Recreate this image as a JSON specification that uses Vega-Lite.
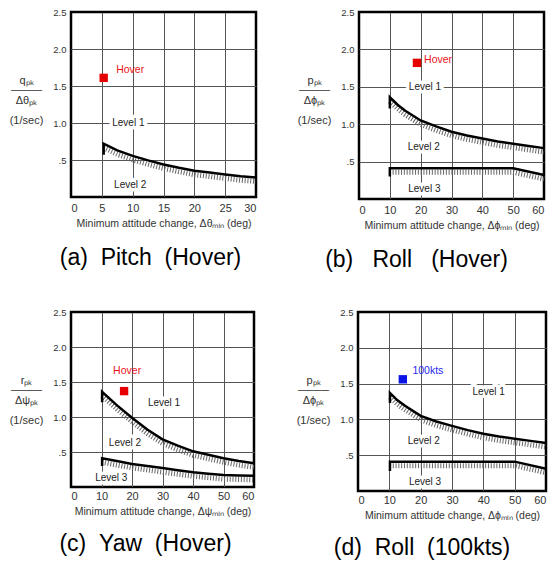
{
  "$schema": "https://vega.github.io/schema/vega-lite/v6.json",
  "background": "white",
  "padding": {"left": 7, "top": 5, "right": 4, "bottom": 4},
  "config": {
    "view": {"stroke": "black", "strokeWidth": 2.5},
    "axis": {"domain": false, "ticks": false, "tickSize": 0, "grid": true, "gridWidth": 1, "labelFont": "Liberation Sans", "labelColor": "#333", "titleFont": "Liberation Sans", "titleFontWeight": "normal", "titleColor": "#333"},
    "axisX": {"labelFontSize": 11, "labelPadding": 5, "titleFontSize": 10.5, "titlePadding": 5},
    "axisY": {"labelFontSize": 9.5, "labelPadding": 5, "titleFontSize": 11, "titleAngle": 0, "titleAlign": "center", "titleBaseline": "top", "titleX": -45, "titleY": 62, "titleLineHeight": 10},
    "title": {"font": "Liberation Sans", "fontSize": 23, "fontWeight": "normal", "color": "black", "orient": "bottom", "anchor": "middle"},
    "text": {"font": "Liberation Sans", "fontSize": 10, "color": "#222"}
  },
  "datasets": {
    "a_lines": [
      {"s": "U", "o": 0, "h": 0, "x": 5.3, "y": 0.57},
      {"s": "U", "o": 1, "h": 1, "x": 5.3, "y": 0.72},
      {"s": "U", "o": 2, "h": 1, "x": 7.5, "y": 0.63},
      {"s": "U", "o": 3, "h": 1, "x": 10, "y": 0.555},
      {"s": "U", "o": 4, "h": 1, "x": 12.5, "y": 0.495},
      {"s": "U", "o": 5, "h": 1, "x": 15, "y": 0.44},
      {"s": "U", "o": 6, "h": 1, "x": 17.5, "y": 0.395},
      {"s": "U", "o": 7, "h": 1, "x": 20, "y": 0.355},
      {"s": "U", "o": 8, "h": 1, "x": 22.5, "y": 0.33},
      {"s": "U", "o": 9, "h": 1, "x": 25, "y": 0.305},
      {"s": "U", "o": 10, "h": 1, "x": 27.5, "y": 0.28},
      {"s": "U", "o": 11, "h": 1, "x": 30, "y": 0.265}
    ],
    "a_levels": [{"x": 9.3, "y": 1.0, "t": "Level 1"}, {"x": 9.6, "y": 0.16, "t": "Level 2"}],
    "a_marker": [{"x": 5.3, "y": 1.61}],
    "a_label": [{"x": 9.6, "y": 1.72, "t": "Hover"}],
    "b_lines": [
      {"s": "U", "o": 0, "h": 0, "x": 10, "y": 1.21},
      {"s": "U", "o": 1, "h": 1, "x": 10, "y": 1.36},
      {"s": "U", "o": 2, "h": 1, "x": 12.5, "y": 1.26},
      {"s": "U", "o": 3, "h": 1, "x": 15, "y": 1.18},
      {"s": "U", "o": 4, "h": 1, "x": 20, "y": 1.05},
      {"s": "U", "o": 5, "h": 1, "x": 25, "y": 0.97},
      {"s": "U", "o": 6, "h": 1, "x": 30, "y": 0.9},
      {"s": "U", "o": 7, "h": 1, "x": 35, "y": 0.85},
      {"s": "U", "o": 8, "h": 1, "x": 40, "y": 0.81},
      {"s": "U", "o": 9, "h": 1, "x": 45, "y": 0.77},
      {"s": "U", "o": 10, "h": 1, "x": 50, "y": 0.74},
      {"s": "U", "o": 11, "h": 1, "x": 55, "y": 0.71},
      {"s": "U", "o": 12, "h": 1, "x": 60, "y": 0.68},
      {"s": "L", "o": 0, "h": 0, "x": 10, "y": 0.3},
      {"s": "L", "o": 1, "h": 1, "x": 10, "y": 0.41},
      {"s": "L", "o": 2, "h": 1, "x": 50, "y": 0.41},
      {"s": "L", "o": 3, "h": 1, "x": 60, "y": 0.32}
    ],
    "b_levels": [{"x": 21.4, "y": 1.5, "t": "Level 1"}, {"x": 21, "y": 0.69, "t": "Level 2"}, {"x": 21.2, "y": 0.14, "t": "Level 3"}],
    "b_marker": [{"x": 18.8, "y": 1.82}],
    "b_label": [{"x": 21.1, "y": 1.86, "t": "Hover"}],
    "c_lines": [
      {"s": "U", "o": 0, "h": 0, "x": 10.2, "y": 1.21},
      {"s": "U", "o": 1, "h": 1, "x": 10.2, "y": 1.36},
      {"s": "U", "o": 2, "h": 1, "x": 15, "y": 1.17},
      {"s": "U", "o": 3, "h": 1, "x": 20, "y": 0.99},
      {"s": "U", "o": 4, "h": 1, "x": 25, "y": 0.82},
      {"s": "U", "o": 5, "h": 1, "x": 30, "y": 0.68},
      {"s": "U", "o": 6, "h": 1, "x": 35, "y": 0.59},
      {"s": "U", "o": 7, "h": 1, "x": 40, "y": 0.51},
      {"s": "U", "o": 8, "h": 1, "x": 45, "y": 0.46},
      {"s": "U", "o": 9, "h": 1, "x": 50, "y": 0.41},
      {"s": "U", "o": 10, "h": 1, "x": 55, "y": 0.37},
      {"s": "U", "o": 11, "h": 1, "x": 60, "y": 0.34},
      {"s": "L", "o": 0, "h": 0, "x": 10.2, "y": 0.3},
      {"s": "L", "o": 1, "h": 1, "x": 10.2, "y": 0.41},
      {"s": "L", "o": 2, "h": 1, "x": 15, "y": 0.37},
      {"s": "L", "o": 3, "h": 1, "x": 20, "y": 0.33},
      {"s": "L", "o": 4, "h": 1, "x": 25, "y": 0.3},
      {"s": "L", "o": 5, "h": 1, "x": 30, "y": 0.27},
      {"s": "L", "o": 6, "h": 1, "x": 35, "y": 0.24},
      {"s": "L", "o": 7, "h": 1, "x": 40, "y": 0.21},
      {"s": "L", "o": 8, "h": 1, "x": 45, "y": 0.19},
      {"s": "L", "o": 9, "h": 1, "x": 50, "y": 0.17},
      {"s": "L", "o": 10, "h": 1, "x": 55, "y": 0.165},
      {"s": "L", "o": 11, "h": 1, "x": 60, "y": 0.16}
    ],
    "c_levels": [{"x": 30.5, "y": 1.2, "t": "Level 1"}, {"x": 17.7, "y": 0.63, "t": "Level 2"}, {"x": 13.2, "y": 0.13, "t": "Level 3"}],
    "c_marker": [{"x": 17.4, "y": 1.37}],
    "c_label": [{"x": 18.4, "y": 1.66, "t": "Hover"}],
    "d_lines": [
      {"s": "U", "o": 0, "h": 0, "x": 10.2, "y": 1.23},
      {"s": "U", "o": 1, "h": 1, "x": 10.2, "y": 1.37},
      {"s": "U", "o": 2, "h": 1, "x": 12.5, "y": 1.27},
      {"s": "U", "o": 3, "h": 1, "x": 15, "y": 1.19},
      {"s": "U", "o": 4, "h": 1, "x": 20, "y": 1.05},
      {"s": "U", "o": 5, "h": 1, "x": 25, "y": 0.97},
      {"s": "U", "o": 6, "h": 1, "x": 30, "y": 0.91},
      {"s": "U", "o": 7, "h": 1, "x": 35, "y": 0.85},
      {"s": "U", "o": 8, "h": 1, "x": 40, "y": 0.8},
      {"s": "U", "o": 9, "h": 1, "x": 45, "y": 0.76},
      {"s": "U", "o": 10, "h": 1, "x": 50, "y": 0.73},
      {"s": "U", "o": 11, "h": 1, "x": 55, "y": 0.7},
      {"s": "U", "o": 12, "h": 1, "x": 60, "y": 0.67},
      {"s": "L", "o": 0, "h": 0, "x": 10.2, "y": 0.28},
      {"s": "L", "o": 1, "h": 1, "x": 10.2, "y": 0.41},
      {"s": "L", "o": 2, "h": 1, "x": 50, "y": 0.41},
      {"s": "L", "o": 3, "h": 1, "x": 60, "y": 0.31}
    ],
    "d_levels": [{"x": 41.7, "y": 1.38, "t": "Level 1"}, {"x": 21, "y": 0.7, "t": "Level 2"}, {"x": 21.4, "y": 0.12, "t": "Level 3"}],
    "d_marker": [{"x": 14.3, "y": 1.56}],
    "d_label": [{"x": 22.3, "y": 1.68, "t": "100kts"}]
  },
  "spacing": 32,
  "vconcat": [
    {
      "bounds": "flush",
      "spacing": 103,
      "hconcat": [
        {
          "width": 185, "height": 185,
          "title": {"text": "(a)\u00a0\u00a0Pitch\u00a0\u00a0(Hover)", "dx": -13, "offset": 18},
          "encoding": {
            "x": {"field": "x", "type": "quantitative", "scale": {"domain": [0, 30], "nice": false, "zero": false},
                  "axis": {"values": [0, 5, 10, 15, 20, 25, 30], "title": "Minimum attitude change, Δθₘᵢₙ (deg)",
                           "gridColor": {"condition": {"test": "datum.value == 0 || datum.value == 30", "value": "black"}, "value": "#555"}}},
            "y": {"field": "y", "type": "quantitative", "scale": {"domain": [0, 2.5], "nice": false},
                  "axis": {"values": [0, 0.5, 1, 1.5, 2, 2.5], "labelExpr": "datum.value == 0 ? '' : datum.value == 0.5 ? '.5' : format(datum.value, '.1f')",
                           "title": ["qₚₖ", "────", "Δθₚₖ", "\u2800", "(1/sec)"],
                           "gridColor": {"condition": {"test": "datum.value == 0 || datum.value == 2.5", "value": "black"}, "value": "#555"}}}
          },
          "layer": [
            {"data": {"name": "a_lines"}, "transform": [{"filter": "datum.h == 1"}], "mark": {"type": "line", "color": "#666", "strokeWidth": 5, "strokeDash": [1, 1.8], "yOffset": 4}, "encoding": {"detail": {"field": "s"}, "order": {"field": "o"}}},
            {"data": {"name": "a_lines"}, "mark": {"type": "line", "color": "black", "strokeWidth": 2.5}, "encoding": {"detail": {"field": "s"}, "order": {"field": "o"}}},
            {"data": {"name": "a_levels"}, "mark": {"type": "text", "color": "white", "stroke": "white", "strokeWidth": 7, "strokeJoin": "round"}, "encoding": {"text": {"field": "t"}}},
            {"data": {"name": "a_levels"}, "mark": {"type": "text"}, "encoding": {"text": {"field": "t"}}},
            {"data": {"name": "a_marker"}, "mark": {"type": "point", "shape": "square", "filled": true, "size": 70, "color": "#e60000", "opacity": 1}},
            {"data": {"name": "a_label"}, "mark": {"type": "text", "color": "#e8141c", "fontSize": 10.5}, "encoding": {"text": {"field": "t"}}}
          ]
        },
        {
          "width": 185, "height": 187,
          "title": {"text": "(b)\u00a0\u00a0\u00a0Roll\u00a0\u00a0\u00a0(Hover)", "dx": -35, "offset": 18},
          "encoding": {
            "x": {"field": "x", "type": "quantitative", "scale": {"domain": [0, 60], "nice": false, "zero": false},
                  "axis": {"values": [0, 10, 20, 30, 40, 50, 60], "title": "Minimum attitude change, Δϕₘᵢₙ (deg)",
                           "gridColor": {"condition": {"test": "datum.value == 0 || datum.value == 60", "value": "black"}, "value": "#555"}}},
            "y": {"field": "y", "type": "quantitative", "scale": {"domain": [0, 2.5], "nice": false},
                  "axis": {"values": [0, 0.5, 1, 1.5, 2, 2.5], "labelExpr": "datum.value == 0 ? '' : datum.value == 0.5 ? '.5' : format(datum.value, '.1f')",
                           "title": ["pₚₖ", "────", "Δϕₚₖ", "\u2800", "(1/sec)"],
                           "gridColor": {"condition": {"test": "datum.value == 0 || datum.value == 2.5", "value": "black"}, "value": "#555"}}}
          },
          "layer": [
            {"data": {"name": "b_lines"}, "transform": [{"filter": "datum.h == 1"}], "mark": {"type": "line", "color": "#666", "strokeWidth": 5, "strokeDash": [1, 1.8], "yOffset": 4}, "encoding": {"detail": {"field": "s"}, "order": {"field": "o"}}},
            {"data": {"name": "b_lines"}, "mark": {"type": "line", "color": "black", "strokeWidth": 2.5}, "encoding": {"detail": {"field": "s"}, "order": {"field": "o"}}},
            {"data": {"name": "b_levels"}, "mark": {"type": "text", "color": "white", "stroke": "white", "strokeWidth": 7, "strokeJoin": "round"}, "encoding": {"text": {"field": "t"}}},
            {"data": {"name": "b_levels"}, "mark": {"type": "text"}, "encoding": {"text": {"field": "t"}}},
            {"data": {"name": "b_marker"}, "mark": {"type": "point", "shape": "square", "filled": true, "size": 70, "color": "#e60000", "opacity": 1}},
            {"data": {"name": "b_label"}, "mark": {"type": "text", "color": "#e8141c", "fontSize": 10.5, "align": "left"}, "encoding": {"text": {"field": "t"}}}
          ]
        }
      ]
    },
    {
      "bounds": "flush",
      "spacing": 104,
      "hconcat": [
        {
          "width": 183, "height": 175,
          "title": {"text": "(c)\u00a0\u00a0Yaw\u00a0\u00a0(Hover)", "dx": -17, "offset": 16},
          "encoding": {
            "x": {"field": "x", "type": "quantitative", "scale": {"domain": [0, 60], "nice": false, "zero": false},
                  "axis": {"values": [0, 10, 20, 30, 40, 50, 60], "title": "Minimum attitude change, Δψₘᵢₙ (deg)", "labelPadding": 3,
                           "gridColor": {"condition": {"test": "datum.value == 0 || datum.value == 60", "value": "black"}, "value": "#555"}}},
            "y": {"field": "y", "type": "quantitative", "scale": {"domain": [0, 2.5], "nice": false},
                  "axis": {"values": [0, 0.5, 1, 1.5, 2, 2.5], "labelExpr": "datum.value == 0 ? '' : datum.value == 0.5 ? '.5' : format(datum.value, '.1f')",
                           "title": ["rₚₖ", "────", "Δψₚₖ", "\u2800", "(1/sec)"],
                           "gridColor": {"condition": {"test": "datum.value == 0 || datum.value == 2.5", "value": "black"}, "value": "#555"}}}
          },
          "layer": [
            {"data": {"name": "c_lines"}, "transform": [{"filter": "datum.h == 1"}], "mark": {"type": "line", "color": "#666", "strokeWidth": 5, "strokeDash": [1, 1.8], "yOffset": 4}, "encoding": {"detail": {"field": "s"}, "order": {"field": "o"}}},
            {"data": {"name": "c_lines"}, "mark": {"type": "line", "color": "black", "strokeWidth": 2.5}, "encoding": {"detail": {"field": "s"}, "order": {"field": "o"}}},
            {"data": {"name": "c_levels"}, "mark": {"type": "text", "color": "white", "stroke": "white", "strokeWidth": 7, "strokeJoin": "round"}, "encoding": {"text": {"field": "t"}}},
            {"data": {"name": "c_levels"}, "mark": {"type": "text"}, "encoding": {"text": {"field": "t"}}},
            {"data": {"name": "c_marker"}, "mark": {"type": "point", "shape": "square", "filled": true, "size": 70, "color": "#e60000", "opacity": 1}},
            {"data": {"name": "c_label"}, "mark": {"type": "text", "color": "#e8141c", "fontSize": 10.5}, "encoding": {"text": {"field": "t"}}}
          ]
        },
        {
          "width": 188, "height": 179,
          "title": {"text": "(d)\u00a0\u00a0Roll\u00a0\u00a0(100kts)", "dx": -30, "offset": 16},
          "encoding": {
            "x": {"field": "x", "type": "quantitative", "scale": {"domain": [0, 60], "nice": false, "zero": false},
                  "axis": {"values": [0, 10, 20, 30, 40, 50, 60], "title": "Minimum attitude change, Δϕₘᵢₙ (deg)", "labelPadding": 3,
                           "gridColor": {"condition": {"test": "datum.value == 0 || datum.value == 60", "value": "black"}, "value": "#555"}}},
            "y": {"field": "y", "type": "quantitative", "scale": {"domain": [0, 2.5], "nice": false},
                  "axis": {"values": [0, 0.5, 1, 1.5, 2, 2.5], "labelExpr": "datum.value == 0 ? '' : datum.value == 0.5 ? '.5' : format(datum.value, '.1f')",
                           "title": ["pₚₖ", "────", "Δϕₚₖ", "\u2800", "(1/sec)"],
                           "gridColor": {"condition": {"test": "datum.value == 0 || datum.value == 2.5", "value": "black"}, "value": "#555"}}}
          },
          "layer": [
            {"data": {"name": "d_lines"}, "transform": [{"filter": "datum.h == 1"}], "mark": {"type": "line", "color": "#666", "strokeWidth": 5, "strokeDash": [1, 1.8], "yOffset": 4}, "encoding": {"detail": {"field": "s"}, "order": {"field": "o"}}},
            {"data": {"name": "d_lines"}, "mark": {"type": "line", "color": "black", "strokeWidth": 2.5}, "encoding": {"detail": {"field": "s"}, "order": {"field": "o"}}},
            {"data": {"name": "d_levels"}, "mark": {"type": "text", "color": "white", "stroke": "white", "strokeWidth": 7, "strokeJoin": "round"}, "encoding": {"text": {"field": "t"}}},
            {"data": {"name": "d_levels"}, "mark": {"type": "text"}, "encoding": {"text": {"field": "t"}}},
            {"data": {"name": "d_marker"}, "mark": {"type": "point", "shape": "square", "filled": true, "size": 70, "color": "#0a14e6", "opacity": 1}},
            {"data": {"name": "d_label"}, "mark": {"type": "text", "color": "#2828f0", "fontSize": 10.5}, "encoding": {"text": {"field": "t"}}}
          ]
        }
      ]
    }
  ]
}
